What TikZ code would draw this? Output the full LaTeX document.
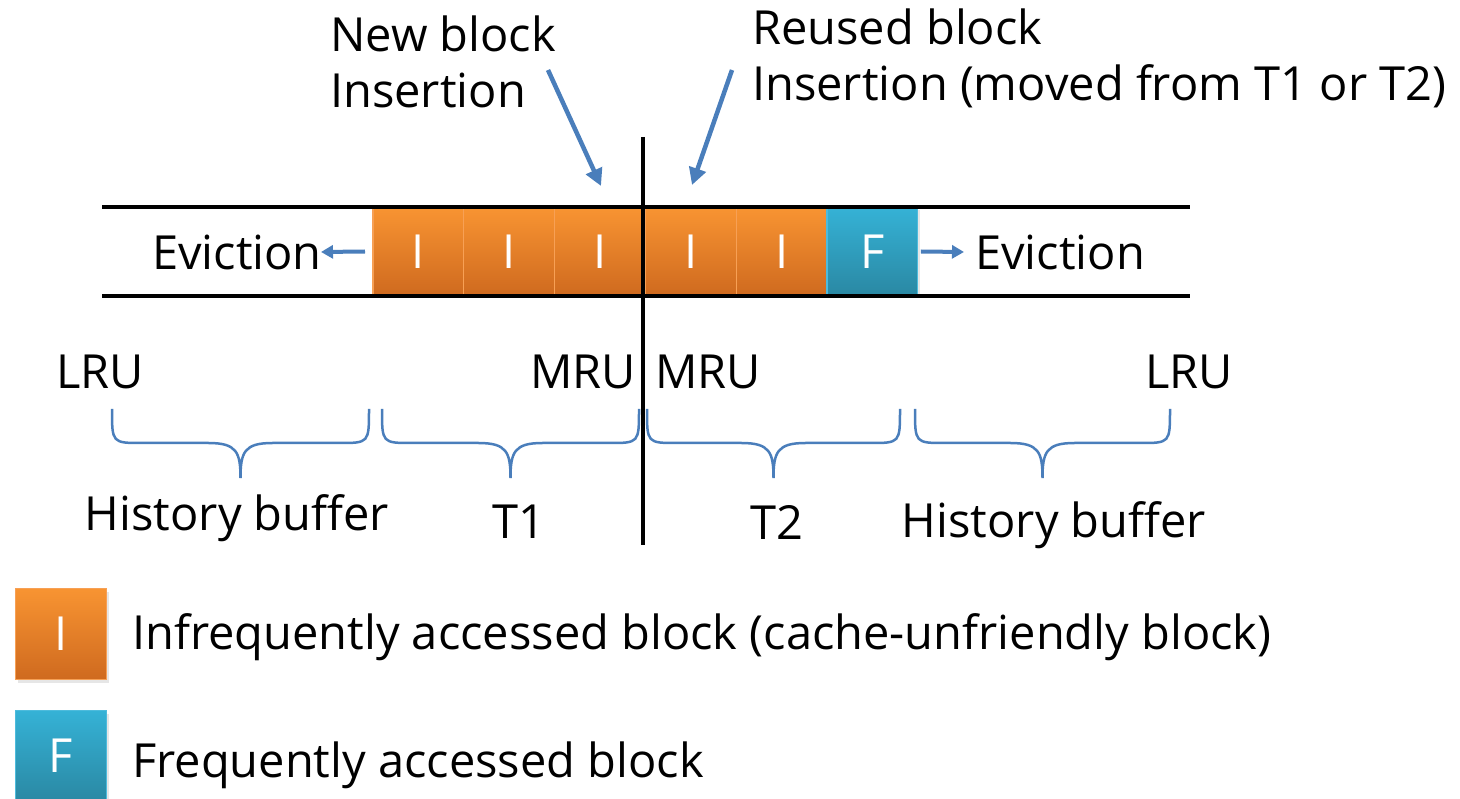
\documentclass[tikz,border=0pt]{standalone}
\usepackage{fontspec}
\setmainfont{Open Sans}
\usepackage{tikz}
\usetikzlibrary{
  arrows.meta,
  positioning,  % right=of ...
  shadows,      % drop shadow for the blocks
}
\definecolor{itop}{HTML}{F89432}
\definecolor{ibot}{HTML}{CF6A1F}
\definecolor{iedge}{HTML}{F7A055}
\definecolor{ftop}{HTML}{35B2D6}
\definecolor{fbot}{HTML}{2A88A3}
\definecolor{fedge}{HTML}{4DBBDC}
\definecolor{arrowblue}{HTML}{4A7EBB}
\newcommand{\regbrace}[2]{%
  \pgfmathsetmacro\bmid{(#1+#2)/2}
  \draw[brace line] (#1,409) .. controls (#1,443) .. (#1+30,443) -- (\bmid-32,443)
    .. controls (\bmid-4,443) and (\bmid,452) .. (\bmid,478)
    .. controls (\bmid,452) and (\bmid+4,443) .. (\bmid+32,443) -- (#2-30,443)
    .. controls (#2,443) .. (#2,409);
}
\tikzset{
  font=\fontsize{47}{56}\selectfont,
  >=stealth,
  block/.style={
    rectangle,
    minimum width=90.8pt,
    minimum height=88pt,
    inner sep=0pt,
    outer sep=0pt,
    line width=1.2pt,
    text=white,
    drop shadow={opacity=0.2,shadow xshift=2pt,shadow yshift=-3pt}
  },
  iblock/.style={
    block,
    draw=iedge,
    top color=itop,
    bottom color=ibot
  },
  fblock/.style={
    block,
    draw=fedge,
    top color=ftop,
    bottom color=fbot
  },
  rail/.style={
    line width=4.8pt,
    black
  },
  blue arrow/.style={
    draw=arrowblue,
    line width=4.5pt,
    -{Triangle[length=17pt,width=17pt]}
  },
  evict arrow/.style={
    draw=arrowblue,
    line width=4pt,
    -{Triangle[length=12pt,width=13pt]}
  },
  brace line/.style={
    draw=arrowblue,
    line width=2.5pt
  },
  lbl/.style={
    inner sep=0pt
  }
}
\begin{document}
\begin{tikzpicture}[x=1pt,y=-1pt]
\useasboundingbox (0,0) rectangle (1460,799);
% queue of blocks
\node[iblock]                 (b1) at (418.4,251.5) {I};
\node[iblock,right=0pt of b1] (b2) {I};
\node[iblock,right=0pt of b2] (b3) {I};
\node[iblock,right=0pt of b3] (b4) {I};
\node[iblock,right=0pt of b4] (b5) {I};
\node[fblock,right=0pt of b5] (b6) {F};
% rails and divider
\coordinate (railtl) at (102,207);
\coordinate (railtr) at (1190,207);
\coordinate (railbl) at (102,296);
\coordinate (railbr) at (1190,296);
\draw[rail] (railtl) -- (railtr);
\draw[rail] (railbl) -- (railbr);
\coordinate (divtop) at (643,137);
\coordinate (divbot) at (643,545);
\draw[rail] (divtop) -- (divbot);
% evictions
\node[lbl,anchor=east] (evl) at (322,252) {Eviction};
\node[lbl,anchor=west] (evr) at (975,252) {Eviction};
\draw[evict arrow] ([xshift=-8pt]b1.west) -- ([xshift=-1pt]evl.east);
\draw[evict arrow] ([xshift=3pt]b6.east) -- ([xshift=-11pt]evr.west);
% insertions
\node[lbl,anchor=west,align=left] (newins) at (330,62) {New block\\Insertion};
\node[lbl,anchor=west,align=left] (reins)  at (752,58) {Reused block\\Insertion (moved from T1 or T2)};
\coordinate (newtail) at (548,70);
\coordinate (newtip)  at (601,186);
\coordinate (retail)  at (732,70);
\coordinate (retip)   at (692,185);
\draw[blue arrow] (newtail) -- (newtip);
\draw[blue arrow] (retail) -- (retip);
% ends of the lists
\node[lbl] (lru1) at (100,372) {LRU};
\node[lbl] (mru1) at (583,372) {MRU};
\node[lbl] (mru2) at (708,372) {MRU};
\node[lbl] (lru2) at (1189,372) {LRU};
% regions
\regbrace{112}{369}
\regbrace{382}{639}
\regbrace{647}{900}
\regbrace{915}{1170}
\node[lbl] (hist1) at (237,518) {History buffer};
\node[lbl] (t1)    at (519,522) {T1};
\node[lbl] (t2)    at (777,522) {T2};
\node[lbl] (hist2) at (1054,525) {History buffer};
% legend
\node[iblock,minimum width=91pt,minimum height=91pt] (legi) at (61,634) {I};
\node[fblock,minimum width=91pt,minimum height=91pt] (legf) at (61,756) {F};
\node[lbl,anchor=west] (legitxt) at (132,637) {Infrequently accessed block (cache-unfriendly block)};
\node[lbl,anchor=west] (legftxt) at (132,765) {Frequently accessed block};
\end{tikzpicture}
\end{document}
